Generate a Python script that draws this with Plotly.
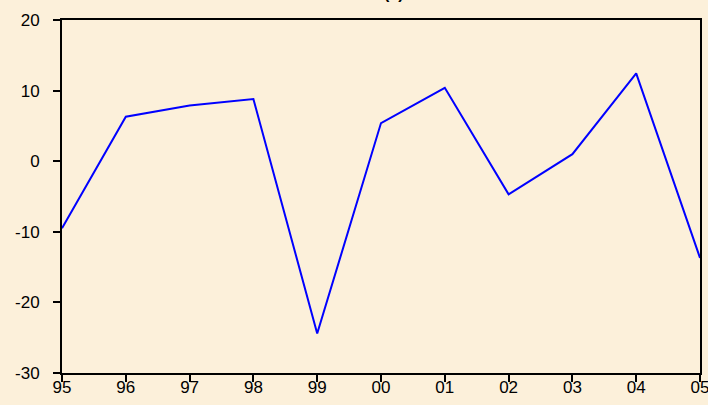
import plotly.graph_objects as go

years = [1995, 1996, 1997, 1998, 1999, 2000, 2001, 2002, 2003, 2004, 2005]
year_labels = ["95", "96", "97", "98", "99", "00", "01", "02", "03", "04", "05"]
values = [-9.5, 6.3, 7.9, 8.8, -24.4, 5.4, 10.4, -4.7, 1.0, 12.45, -13.7]
y_ticks = [-30, -20, -10, 0, 10, 20]
y_tick_labels = ["-30", "-20", "-10", "0", "10", "20"]

bg = "#FCF0DA"

fig = go.Figure()
fig.add_trace(go.Scatter(x=years, y=values, mode="lines",
                         line=dict(color="#0000FF", width=2), showlegend=False))

fig.update_layout(
    width=708, height=405,
    margin=dict(l=62, r=8, t=20, b=32),
    paper_bgcolor=bg, plot_bgcolor=bg,
    font=dict(family="Arial, Liberation Sans, sans-serif", size=17, color="black"),
    showlegend=False,
)
fig.update_xaxes(range=[1995, 2005], tickvals=years, ticktext=year_labels,
                 automargin=False, ticklabeloverflow="allow", ticklabelstandoff=-9,
                 showgrid=False, zeroline=False, showline=True, linecolor="black",
                 linewidth=2, mirror=True, ticks="outside", ticklen=7,
                 tickcolor="black", tickwidth=2)
fig.update_yaxes(range=[-30, 20], tickvals=y_ticks, ticktext=y_tick_labels,
                 automargin=False, ticklabeloverflow="allow", ticklabelstandoff=10,
                 showgrid=False, zeroline=False, showline=True, linecolor="black",
                 linewidth=2, mirror=True, ticks="outside", ticklen=7,
                 tickcolor="black", tickwidth=2)
fig.add_annotation(text="<b>(a)</b>", xref="paper", yref="paper", x=0.52, y=1.045,
                   xanchor="center", yanchor="bottom", showarrow=False,
                   font=dict(size=16, color="black"))

fig.write_html(
    "out.html",
    config={"displayModeBar": False},
    post_script="document.body.style.margin='0';document.body.style.overflow='hidden';"
                "document.body.style.background='#FCF0DA';",
)
